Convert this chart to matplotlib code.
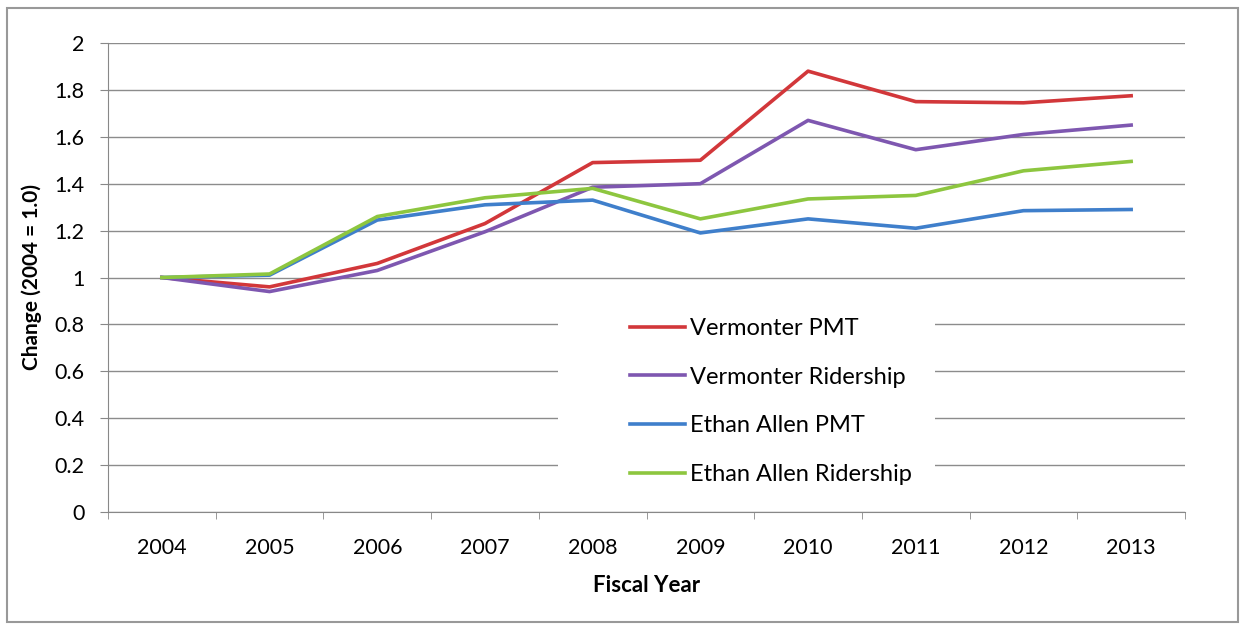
import matplotlib.pyplot as plt
from matplotlib.patches import Rectangle

plt.rcParams['font.family'] = ['Lato', 'DejaVu Sans']

# data
years = ['2004', '2005', '2006', '2007', '2008', '2009', '2010', '2011', '2012', '2013']
vermonter_pmt = [1.0, 0.96, 1.06, 1.23, 1.49, 1.50, 1.88, 1.75, 1.745, 1.775]
vermonter_riders = [1.0, 0.94, 1.03, 1.195, 1.385, 1.40, 1.67, 1.545, 1.61, 1.65]
ethan_pmt = [1.0, 1.01, 1.245, 1.31, 1.33, 1.19, 1.25, 1.21, 1.285, 1.29]
ethan_riders = [1.0, 1.015, 1.26, 1.34, 1.38, 1.25, 1.335, 1.35, 1.455, 1.495]
series_names = ['Vermonter PMT', 'Vermonter Ridership', 'Ethan Allen PMT', 'Ethan Allen Ridership']
y_ticks = [0, 0.2, 0.4, 0.6, 0.8, 1, 1.2, 1.4, 1.6, 1.8, 2]
y_labels = ['0', '0.2', '0.4', '0.6', '0.8', '1', '1.2', '1.4', '1.6', '1.8', '2']

colors = ['#D2373A', '#7E57B0', '#3F7FCB', '#8DC63F']

W, H = 1245, 630
fig = plt.figure(figsize=(W / 100, H / 100), dpi=100)
ax = fig.add_axes([108 / W, 1 - 512 / H, (1185 - 108) / W, (512 - 43) / H])

x = list(range(len(years)))
for vals, name, c in zip([vermonter_pmt, vermonter_riders, ethan_pmt, ethan_riders], series_names, colors):
    ax.plot(x, vals, color=c, lw=2.6, label=name, solid_joinstyle='round', zorder=3)

ax.set_xlim(-0.5, len(years) - 0.5)
ax.set_ylim(0, 2)
ax.set_yticks(y_ticks)
ax.set_yticklabels(y_labels)
ax.set_xticks(x)
ax.set_xticklabels(years)
ax.set_xticks([i - 0.5 for i in range(len(years) + 1)], minor=True)
ax.tick_params(axis='x', which='major', length=0, pad=19, labelsize=15.5)
ax.tick_params(axis='x', which='minor', length=5, color='#888888', direction='out')
ax.tick_params(axis='y', length=6, color='#888888', labelsize=15.5, pad=11)

ax.grid(axis='y', color='#8c8c8c', lw=1)
ax.set_axisbelow(True)
for s in ['top', 'right']:
    ax.spines[s].set_visible(False)
ax.spines['left'].set_color('#888888')
ax.spines['bottom'].set_color('#888888')

ax.set_xlabel('Fiscal Year', fontsize=16, fontweight='bold', labelpad=12)
ax.set_ylabel('Change (2004 = 1.0)', fontsize=15, fontweight='bold', labelpad=9)

# white legend area that hides the gridlines behind it
blank = Rectangle((558 / W, 1 - 503 / H), (935 - 558) / W, 200 / H,
                  transform=fig.transFigure, facecolor='white',
                  edgecolor='none', zorder=1, clip_on=False)
ax.add_artist(blank)

leg = ax.legend(loc='upper left', bbox_to_anchor=(630 / W, 1 - 318 / H),
                bbox_transform=fig.transFigure, frameon=False, fontsize=17,
                handlelength=2.35, handletextpad=0.2, labelspacing=1.17,
                borderpad=0, borderaxespad=0)
leg.set_zorder(5)

# outer frame round the whole chart
fig.patches.append(Rectangle((0.006, 0.013), 0.988, 0.975, transform=fig.transFigure,
                             fill=False, edgecolor='#999999', lw=1.5))

fig.savefig('out.png', dpi=100)
